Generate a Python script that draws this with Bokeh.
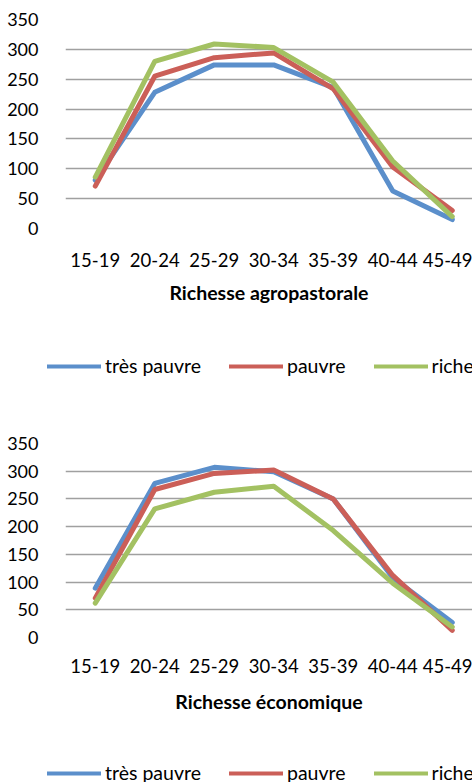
from bokeh.plotting import figure
from bokeh.models import Range1d, Legend, LegendItem, FixedTicker, ColumnDataSource
from bokeh.layouts import column, row
from bokeh.embed import file_html
from bokeh.resources import INLINE

age_groups = ["15-19", "20-24", "25-29", "30-34", "35-39", "40-44", "45-49"]
series_names = ["très pauvre", "pauvre", "riche"]

agro_tres_pauvre = [81, 228, 274, 274, 236, 63, 15]
agro_pauvre = [71, 255, 286, 294, 234, 103, 30]
agro_riche = [86, 280, 309, 303, 245, 113, 20]

eco_tres_pauvre = [89, 278, 307, 299, 250, 108, 27]
eco_pauvre = [71, 267, 296, 302, 250, 112, 13]
eco_riche = [62, 232, 262, 273, 193, 98, 19]

y_ticks = [0, 50, 100, 150, 200, 250, 300, 350]

colors = ["#5B8FCB", "#CB5F58", "#A3C162"]
FONT = "Lato"


def make_chart(title, sources, height, top, frame_h, lab_standoff, title_standoff):
    bottom = height - top - frame_h
    p = figure(width=472, height=height, output_backend="svg", toolbar_location=None,
               x_range=Range1d(-0.5, 6.34), y_range=Range1d(0, 350),
               min_border_left=65, min_border_right=0, min_border_top=top,
               min_border_bottom=bottom)
    p.outline_line_color = None
    p.background_fill_color = "white"
    for src, c in zip(sources, colors):
        p.line("x", "y", source=src, line_color=c, line_width=5,
               line_join="round", line_cap="round")

    p.xgrid.grid_line_color = None
    p.ygrid.grid_line_color = "#A0A0A0"
    p.ygrid.grid_line_width = 1.5
    p.ygrid.ticker = FixedTicker(ticks=y_ticks)

    p.yaxis.ticker = FixedTicker(ticks=y_ticks)
    p.yaxis.axis_line_color = None
    p.yaxis.major_tick_line_color = None
    p.yaxis.minor_tick_line_color = None
    p.yaxis.major_label_standoff = 21
    p.yaxis.major_label_text_font = FONT
    p.yaxis.major_label_text_font_size = "18px"
    p.yaxis.major_label_text_color = "#000000"

    p.xaxis.ticker = FixedTicker(ticks=list(range(len(age_groups))))
    p.xaxis.major_label_overrides = {i: g for i, g in enumerate(age_groups)}
    p.xaxis.axis_line_color = None
    p.xaxis.major_tick_line_color = None
    p.xaxis.minor_tick_line_color = None
    p.xaxis.major_label_standoff = lab_standoff
    p.xaxis.major_label_text_font = FONT
    p.xaxis.major_label_text_font_size = "18.5px"
    p.xaxis.major_label_text_color = "#000000"
    p.xaxis.axis_label = title
    p.xaxis.axis_label_standoff = title_standoff
    p.xaxis.axis_label_text_font = FONT
    p.xaxis.axis_label_text_font_size = "19.5px"
    p.xaxis.axis_label_text_font_style = "bold"
    p.xaxis.axis_label_text_color = "#000000"
    return p


def make_legend(sources, height, legend_y):
    # legend panel: the series lines are attached here only so the legend can draw
    # their swatches; the y range keeps them out of view.
    p = figure(width=472, height=height, output_backend="svg", toolbar_location=None,
               x_axis_type=None, y_axis_type=None,
               x_range=Range1d(0, 1), y_range=Range1d(-2, -1),
               min_border_left=0, min_border_right=0, min_border_top=0,
               min_border_bottom=0)
    p.outline_line_color = None
    p.grid.visible = False
    items = []
    for name, src, c in zip(series_names, sources, colors):
        r = p.line("x", "y", source=src, line_color=c, line_width=4, line_cap="round")
        items.append(LegendItem(label=name, renderers=[r]))
    legend = Legend(items=items, orientation="horizontal", location=(47, legend_y),
                    glyph_width=54, glyph_height=20, label_standoff=4, spacing=28,
                    padding=0, margin=0, border_line_color=None,
                    background_fill_alpha=0,
                    label_text_font=FONT, label_text_font_size="19.5px",
                    label_text_color="#000000")
    p.add_layout(legend, "center")
    return p


x_idx = list(range(len(age_groups)))
agro_src = [ColumnDataSource(dict(x=x_idx, y=v)) for v in (agro_tres_pauvre, agro_pauvre, agro_riche)]
eco_src = [ColumnDataSource(dict(x=x_idx, y=v)) for v in (eco_tres_pauvre, eco_pauvre, eco_riche)]

p1 = make_chart("Richesse agropastorale", agro_src,
                height=340, top=19, frame_h=209, lab_standoff=18, title_standoff=11)
l1 = make_legend(agro_src, 55, 18)
p2 = make_chart("Richesse économique", eco_src,
                height=345, top=48, frame_h=194, lab_standoff=15, title_standoff=14)
l2 = make_legend(eco_src, 42, -2)

layout = column(p1, row(l1), p2, row(l2), spacing=0)
open("out.html", "w").write(file_html(layout, INLINE))
